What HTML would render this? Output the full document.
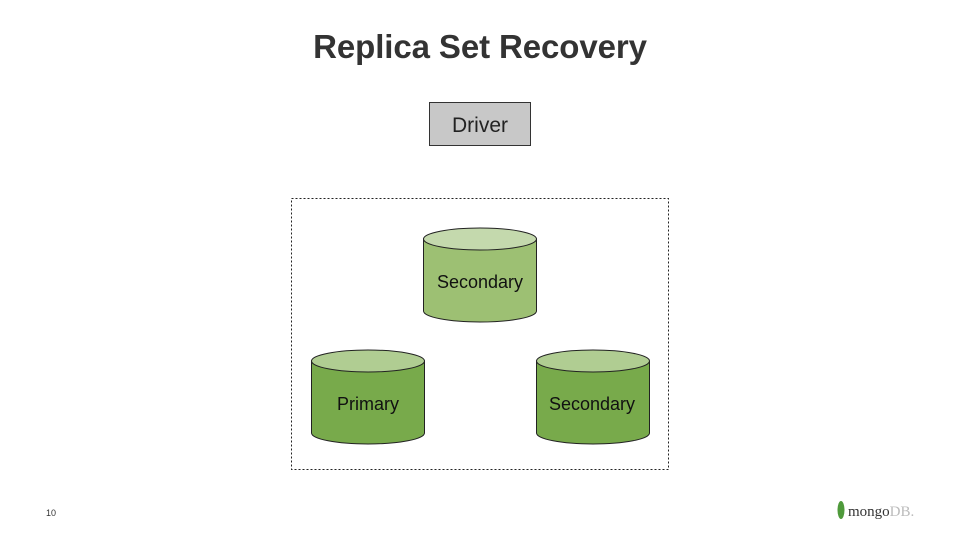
<!DOCTYPE html>
<html><head><style>
body{margin:0;width:960px;height:540px;background:#fff;overflow:hidden;font-family:"Liberation Sans",sans-serif}
</style></head><body>
<svg width="960" height="540" xmlns="http://www.w3.org/2000/svg">
<text x="480" y="58" text-anchor="middle" font-family="Liberation Sans" font-weight="bold" font-size="33" letter-spacing="-0.1" fill="#333">Replica Set Recovery</text>
<rect x="429.5" y="102.5" width="101" height="43" fill="#c8c8c8" stroke="#333" stroke-width="1"/>
<text x="480" y="132" text-anchor="middle" font-size="21" fill="#222">Driver</text>
<rect x="291.5" y="198.5" width="377" height="271" fill="none" stroke="#222" stroke-width="1" stroke-dasharray="2,2"/>
<g stroke="#222" stroke-width="1">
<path d="M423.5 239 V311 A56.5 11 0 0 0 536.5 311 V239" fill="#9dc073"/>
<ellipse cx="480" cy="239" rx="56.5" ry="11" fill="#c4d9ad"/>
<path d="M311.5 361 V433 A56.5 11 0 0 0 424.5 433 V361" fill="#78aa4b"/>
<ellipse cx="368" cy="361" rx="56.5" ry="11" fill="#b0cd92"/>
<path d="M536.5 361 V433 A56.5 11 0 0 0 649.5 433 V361" fill="#78aa4b"/>
<ellipse cx="593" cy="361" rx="56.5" ry="11" fill="#b0cd92"/>
</g>
<text x="480" y="288" text-anchor="middle" font-size="18" fill="#111">Secondary</text>
<text x="368" y="410" text-anchor="middle" font-size="18" fill="#111">Primary</text>
<text x="592" y="410" text-anchor="middle" font-size="18" fill="#111">Secondary</text>
<text x="46" y="516" font-size="9" fill="#333">10</text>
<ellipse cx="841" cy="510" rx="3.5" ry="9" fill="#4f9a3b"/>
<text x="848" y="516" font-family="Liberation Serif" font-size="15" fill="#333">mongo<tspan fill="#bbb">DB.</tspan></text>
</svg>
</body></html>
